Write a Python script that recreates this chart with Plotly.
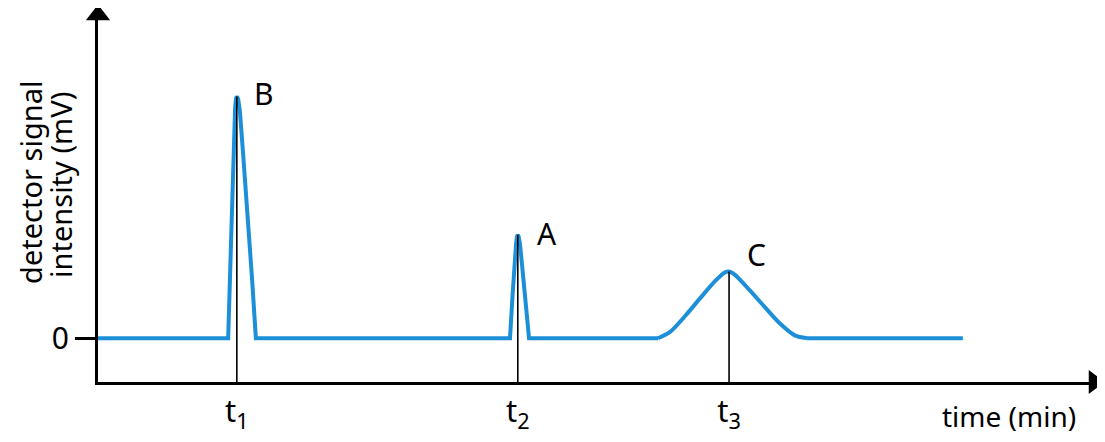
import plotly.graph_objects as go

# ---- data (time in min, signal in mV, arbitrary scale) ----
baseline_start = [0.0]
baseline_end = [20.0]

peak_b_t = [3.03, 3.09, 3.13, 3.16, 3.19, 3.21, 3.23, 3.26, 3.30, 3.38, 3.49, 3.58, 3.67]
peak_b_v = [0.0, 3.6, 6.6, 8.6, 9.5, 9.9, 10.0, 9.9, 9.4, 7.5, 4.9, 2.5, 0.0]

peak_a_t = [9.54, 9.60, 9.64, 9.68, 9.70, 9.72, 9.74, 9.77, 9.82, 9.88, 9.93, 9.98]
peak_a_v = [0.0, 1.8, 3.1, 3.9, 4.2, 4.28, 4.2, 3.9, 3.0, 1.7, 0.8, 0.0]

peak_c_t = [12.96, 13.23, 13.58, 13.93, 14.27, 14.50, 14.60, 14.73, 15.08, 15.43, 15.77, 16.12, 16.40]
peak_c_v = [0.0, 0.25, 0.91, 1.65, 2.35, 2.72, 2.76, 2.63, 1.98, 1.28, 0.62, 0.12, 0.0]

retention_times = [3.23, 9.72, 14.60]
peak_heights = [10.0, 4.28, 2.76]
retention_labels = ["t<sub>1</sub>", "t<sub>2</sub>", "t<sub>3</sub>"]
peak_names = ["B", "A", "C"]
label_t = [3.86, 10.39, 15.24]
label_v = [10.12, 4.32, 3.46]

X_MIN, X_MAX = 0.023, 23.03
Y_MIN, Y_MAX = -1.81, 13.37

font = "Noto Sans, Open Sans, sans-serif"
BLUE = "#1c8fd8"
LW = 4
fig = go.Figure()

# baseline + sharp peaks (straight segments)
ts = baseline_start + peak_b_t + peak_a_t + [peak_c_t[0]]
vs = [0.0] + peak_b_v + peak_a_v + [0.0]
fig.add_trace(go.Scatter(x=ts, y=vs, mode="lines",
                         line=dict(color=BLUE, width=LW),
                         hoverinfo="skip", showlegend=False))
# broad peak C (smoothed)
fig.add_trace(go.Scatter(x=peak_c_t, y=peak_c_v, mode="lines",
                         line=dict(color=BLUE, width=LW, shape="spline", smoothing=0.8),
                         hoverinfo="skip", showlegend=False))
fig.add_trace(go.Scatter(x=[peak_c_t[-1]] + baseline_end, y=[0.0, 0.0], mode="lines",
                         line=dict(color=BLUE, width=LW),
                         hoverinfo="skip", showlegend=False))

# vertical drop lines at retention times
vx, vy = [], []
for t, h in zip(retention_times, peak_heights):
    vx += [t, t, None]
    vy += [h, Y_MIN, None]
fig.add_trace(go.Scatter(x=vx, y=vy, mode="lines",
                         line=dict(color="black", width=1.6),
                         hoverinfo="skip", showlegend=False))

# axis arrow heads (at the ends of the axis lines)
fig.add_trace(go.Scatter(
    x=[X_MIN, X_MAX], y=[Y_MAX, Y_MIN], mode="markers",
    marker=dict(symbol=["triangle-up", "triangle-right"], size=21, color="black",
                line=dict(width=0)),
    cliponaxis=False, hoverinfo="skip", showlegend=False))

# peak names
for name, t, v in zip(peak_names, label_t, label_v):
    fig.add_annotation(x=t, y=v, text=name, showarrow=False,
                       xanchor="center", yanchor="middle",
                       font=dict(family=font, size=30, color="black"))

fig.add_annotation(xref="paper", yref="paper", x=0.9147, y=-0.0921,
                   xanchor="center", yanchor="middle",
                   text="time (min)", showarrow=False,
                   font=dict(family=font, size=28, color="black"))
fig.add_annotation(xref="paper", yref="paper", x=-0.0679, y=0.5434,
                   xanchor="center", yanchor="middle",
                   text="detector signal", textangle=-90, showarrow=False,
                   font=dict(family=font, size=29, color="black"))
fig.add_annotation(xref="paper", yref="paper", x=-0.0378, y=0.538,
                   xanchor="center", yanchor="middle",
                   text="intensity (mV)", textangle=-90, showarrow=False,
                   font=dict(family=font, size=29, color="black"))

fig.update_layout(
    width=1097, height=434,
    margin=dict(l=90, r=11, t=7, b=58),
    paper_bgcolor="white", plot_bgcolor="white",
    xaxis=dict(range=[X_MIN, X_MAX], showgrid=False, zeroline=False,
               showline=True, linecolor="black", linewidth=3,
               tickmode="array", tickvals=retention_times, ticktext=retention_labels,
               ticks="", tickfont=dict(family=font, size=31, color="black")),
    yaxis=dict(range=[Y_MIN, Y_MAX], showgrid=False, zeroline=False,
               showline=True, linecolor="black", linewidth=3,
               tickmode="array", tickvals=[0], ticktext=["0"],
               ticks="outside", ticklen=20, tickwidth=2.5, tickcolor="black",
               tickfont=dict(family=font, size=30, color="black")),
)

fig.write_html("out.html")
